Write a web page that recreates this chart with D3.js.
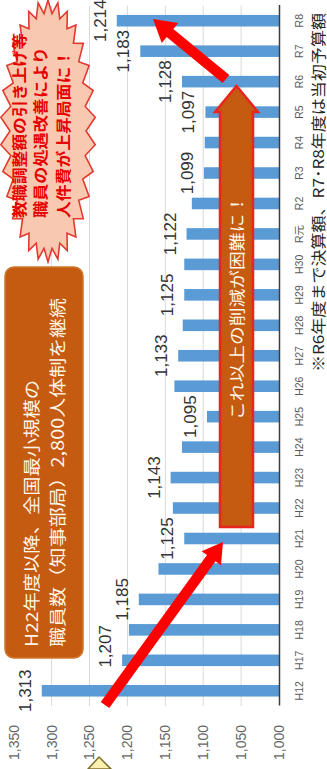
<!DOCTYPE html>
<html>
<head>
<meta charset="utf-8">
<script src="https://cdn.jsdelivr.net/npm/d3@7"></script>
<style>
  html, body { margin: 0; padding: 0; background: #fff; }
  svg { display: block; }
  text { font-family: "Liberation Sans", Arial, "Noto Sans CJK JP", sans-serif; }
  .jp { font-family: "Noto Sans CJK JP", "Noto Sans", sans-serif; }
</style>
</head>
<body>
<svg id="chart" width="327" height="769"></svg>
<script>
// 年度 (fiscal years)
const categories = ["H12","H17","H18","H19","H20","H21","H22","H23","H24","H25","H26",
  "H27","H28","H29","H30","R元","R2","R3","R4","R5","R6","R7","R8"];
// 人件費 (億円)
const values = [1313,1207,1198,1185,1159,1125,1140,1143,1128,1095,1138,
  1133,1127,1125,1125,1122,1115,1099,1098,1097,1128,1183,1214];
// years that carry a value label
const labeledYears = ["H12","H17","H19","H21","H23","H25","H27","H29","R元","R3","R5","R6","R7","R8"];
// value axis ticks
const valueTicks = [1000,1050,1100,1150,1200,1250,1300,1350];

const footnote = "※R6年度まで決算額、R7･R8年度は当初予算額";
const boxLines = ["H22年度以降、全国最小規模の", "職員数（知事部局）2,800人体制を継続"];
const burstLines = ["教職調整額の引き上げ等", "職員の処遇改善により", "人件費が上昇局面に！"];
const arrowText = "これ以上の削減が困難に！";

const data = categories.map((c, i) => ({ cat: c, value: values[i] }));

// The chart is laid out in a landscape frame (769 x 327) and turned a quarter turn
// counter-clockwise onto the portrait page.
const svg = d3.select("#chart");
const g = svg.append("g").attr("transform", "translate(0,769) rotate(-90)");

const x = d3.scaleBand().domain(categories).range([63, 763.5])
  .paddingInner(0.62).paddingOuter(0.31);
const y = d3.scaleLinear().domain([1000, 1350]).range([279, 13.7]);

// gridlines
g.append("g").selectAll("line")
  .data(valueTicks.filter(t => t > 1000 && t < 1350))
  .join("line")
  .attr("x1", 63).attr("x2", 763.5)
  .attr("y1", d => y(d)).attr("y2", d => y(d))
  .attr("stroke", "#d9d9d9").attr("stroke-width", 1);

// bars
g.append("g").selectAll("rect")
  .data(data)
  .join("rect")
  .attr("x", d => x(d.cat))
  .attr("y", d => y(d.value))
  .attr("width", x.bandwidth())
  .attr("height", d => y(1000) - y(d.value))
  .attr("fill", "#5b9bd5");

// category axis
const xAxis = g.append("g")
  .attr("transform", `translate(0,${y(1000)})`)
  .call(d3.axisBottom(x).tickSize(0).tickPadding(17));
xAxis.select(".domain").attr("stroke", "#3c3c3c").attr("stroke-width", 1.5);
xAxis.selectAll("text").attr("font-size", 10.5).attr("fill", "#595959")
  .attr("font-family", "\"Liberation Sans\", Arial, \"Noto Sans CJK JP\", sans-serif");

// value axis
const yAxis = g.append("g")
  .attr("transform", "translate(63,0)")
  .call(d3.axisLeft(y).tickValues(valueTicks).tickFormat(d3.format(",")).tickSize(0).tickPadding(19));
yAxis.select(".domain").remove();
yAxis.selectAll("text").attr("font-size", 14).attr("fill", "#666")
  .attr("font-family", "\"Liberation Sans\", Arial, sans-serif");

// value labels (H17 label sits a little toward H18, clear of the arrow)
const labelNudge = { "H17": -14 };
g.append("g").selectAll("text")
  .data(data.filter(d => labeledYears.includes(d.cat)))
  .join("text")
  .attr("x", d => x(d.cat) + x.bandwidth() / 2 - (labelNudge[d.cat] || 0))
  .attr("y", d => y(d.value) - 11)
  .attr("text-anchor", "middle")
  .attr("font-size", 17)
  .attr("fill", "#333")
  .text(d => d3.format(",")(d.value));

// footnote
g.append("text").attr("class", "jp")
  .attr("x", 397).attr("y", 324)
  .attr("font-size", 15).attr("fill", "#262626")
  .attr("textLength", 359).attr("lengthAdjust", "spacingAndGlyphs")
  .text(footnote);

// ---- annotations ----
const ann = g.append("g");

// orange message box
ann.append("rect")
  .attr("x", 111).attr("y", 5).attr("width", 391).attr("height", 78)
  .attr("rx", 9).attr("fill", "#c55a11").attr("stroke", "#d0782e").attr("stroke-width", 1.5);
ann.selectAll("text.box").data(boxLines).join("text")
  .attr("class", "box jp")
  .attr("x", 122).attr("y", (d, i) => 38 + i * 26)
  .attr("font-size", 17).attr("fill", "#fff6e6")
  .attr("textLength", (d, i) => i === 0 ? 267 : 349)
  .attr("lengthAdjust", "spacingAndGlyphs")
  .text(d => d);

// starburst callout
(function () {
  const cu = 638, cv = 48, n = 30;
  const pts = [];
  for (let i = 0; i < 2 * n; i++) {
    const a = i * Math.PI / n;
    const outer = i % 2 === 0;
    const rx = outer ? 131 : 118, ry = outer ? 47.5 : 38;
    pts.push([cu + rx * Math.cos(a), cv + ry * Math.sin(a)]);
  }
  ann.append("path")
    .attr("d", d3.line()(pts) + "Z")
    .attr("fill", "#f9c8b0").attr("stroke", "#e23a2e").attr("stroke-width", 1.6);
})();
ann.selectAll("text.burst").data(burstLines).join("text")
  .attr("class", "burst jp")
  .attr("x", 551).attr("y", (d, i) => [25, 46, 69][i])
  .attr("font-size", 15).attr("font-weight", "bold").attr("fill", "#e60000")
  .attr("textLength", (d, i) => [185, 171, 168][i])
  .attr("lengthAdjust", "spacingAndGlyphs")
  .text(d => d);

// brown block arrow
ann.append("polygon")
  .attr("points", [[242,220],[657,220],[657,215],[683,236.5],[657,258],[657,253],[242,253]].join(" "))
  .attr("fill", "#c55a11").attr("stroke", "#e8261f").attr("stroke-width", 2.5)
  .attr("stroke-linejoin", "miter");
ann.append("text").attr("class", "jp")
  .attr("x", 349).attr("y", 242.5)
  .attr("font-size", 16).attr("fill", "#fff6e6")
  .attr("textLength", 225).attr("lengthAdjust", "spacingAndGlyphs")
  .text(arrowText);

// red trend arrows
function redArrow(x0, y0, x1, y1, w, headLen, headHalf) {
  const dx = x1 - x0, dy = y1 - y0, len = Math.hypot(dx, dy);
  const ux = dx / len, uy = dy / len, nx = -uy, ny = ux;
  const bx = x1 - ux * headLen, by = y1 - uy * headLen;
  const p = [
    [x0 + nx * w / 2, y0 + ny * w / 2],
    [bx + nx * w / 2, by + ny * w / 2],
    [bx + nx * headHalf, by + ny * headHalf],
    [x1, y1],
    [bx - nx * headHalf, by - ny * headHalf],
    [bx - nx * w / 2, by - ny * w / 2],
    [x0 - nx * w / 2, y0 - ny * w / 2]
  ];
  ann.append("polygon").attr("points", p.map(q => q.join(",")).join(" ")).attr("fill", "#ff0000");
}
redArrow(64, 105, 227, 223, 10.5, 20, 12);
redArrow(690, 226, 750, 153, 10.5, 22, 13);

// corner of a neighbouring callout at the page edge
ann.append("polygon")
  .attr("points", [[0, 88], [12, 99], [0, 111]].join(" "))
  .attr("fill", "#fdf0b0").attr("stroke", "#7d6d2a").attr("stroke-width", 1.5);
</script>
</body>
</html>
